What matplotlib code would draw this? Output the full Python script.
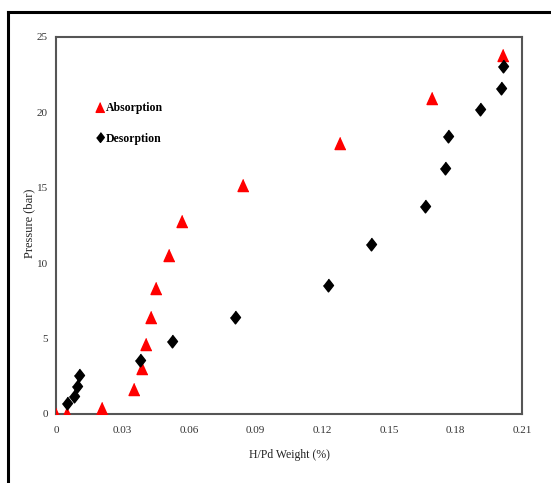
import matplotlib
matplotlib.use("Agg")
import matplotlib.pyplot as plt
from matplotlib.lines import Line2D

# H/Pd weight (%) and pressure (bar)
absorption_x = [0.0, 0.005, 0.0207, 0.035, 0.0388, 0.0406, 0.0428, 0.045,
                0.0509, 0.0568, 0.0843, 0.128, 0.1695, 0.2014]
absorption_y = [0.0, 0.05, 0.4, 1.66, 3.05, 4.64, 6.43, 8.35,
                10.54, 12.8, 15.2, 18.0, 20.95, 23.8]

desorption_x = [0.0049, 0.008, 0.0095, 0.0102, 0.0377, 0.0521, 0.0808,
                0.1227, 0.1418, 0.1661, 0.1751, 0.1765, 0.1911, 0.2004, 0.2016]
desorption_y = [0.75, 1.19, 1.86, 2.59, 3.58, 4.86, 6.45,
                8.53, 11.25, 13.81, 16.33, 18.46, 20.2, 21.6, 23.1]

x_ticks = [0, 0.03, 0.06, 0.09, 0.12, 0.15, 0.18, 0.21]
x_tick_labels = ["0", "0.03", "0.06", "0.09", "0.12", "0.15", "0.18", "0.21"]
y_ticks = [0, 5, 10, 15, 20, 25]

serif = ["Liberation Serif", "DejaVu Serif"]

tri = [(0, 1), (-0.9, -1), (0.9, -1)]
dia = [(0, 1), (0.78, 0), (0, -1), (-0.78, 0)]

fig = plt.figure(figsize=(5.51, 4.83), dpi=100)
ax = fig.add_axes([0.1016, 0.1429, 0.8458, 0.7805])

ax.plot(absorption_x, absorption_y, linestyle="none", marker=tri, ms=8.7,
        color="#ff0000", mec="#ff0000", label="Absorption", zorder=3)
ax.plot(desorption_x, desorption_y, linestyle="none", marker=dia, ms=9.2,
        color="black", mec="black", label="Desorption", zorder=4)

ax.set_xlim(0, 0.21)
ax.set_ylim(0, 25)
ax.set_xticks(x_ticks)
ax.set_xticklabels(x_tick_labels)
ax.set_yticks(y_ticks)
ax.tick_params(length=0, labelsize=8, labelcolor="#333333")
ax.tick_params(axis="x", pad=9)
ax.tick_params(axis="y", pad=6)
for lab in ax.get_xticklabels() + ax.get_yticklabels():
    lab.set_family(serif)

for s in ax.spines.values():
    s.set_color("#555555")
    s.set_linewidth(1.5)

ax.set_xlabel("H/Pd Weight (%)", family=serif, fontsize=8.5, color="#222222",
              labelpad=10)
ax.set_ylabel("Pressure (bar)", family=serif, fontsize=9, color="#222222")
ax.yaxis.set_label_coords(-0.045, 0.505)

handles = [
    Line2D([], [], linestyle="none", marker=tri, ms=7, color="#ff0000"),
    Line2D([], [], linestyle="none", marker=dia, ms=7, color="black"),
]
ax.legend(handles, ["Absorption", "Desorption"], loc="upper left",
          bbox_to_anchor=(0.066, 0.855), frameon=False, handlelength=0.5,
          handletextpad=0.2, labelspacing=1.55,
          prop={"family": serif, "weight": "bold", "size": 8.5})

# outer frame of the figure panel
fig.add_artist(Line2D([8 / 551, 1.0], [1 - 12 / 483, 1 - 12 / 483],
                      transform=fig.transFigure, color="black", lw=2.2))
fig.add_artist(Line2D([8 / 551, 8 / 551], [0.0, 1 - 12 / 483],
                      transform=fig.transFigure, color="black", lw=2.2))

fig.savefig("out.png", dpi=100, facecolor="white")
